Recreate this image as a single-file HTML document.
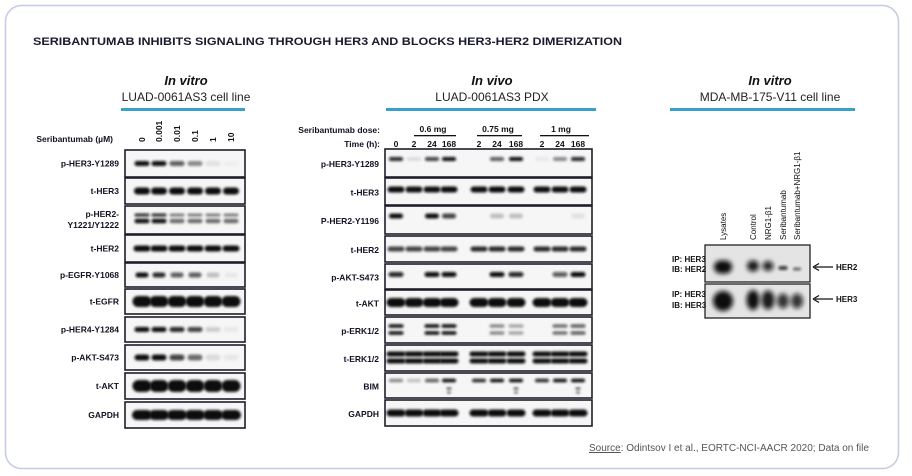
<!DOCTYPE html>
<html><head><meta charset="utf-8">
<style>
html,body{margin:0;padding:0;background:#fff;}
svg{display:block;font-family:"Liberation Sans",sans-serif;}
.lab{font-size:8.5px;font-weight:bold;fill:#111122;text-anchor:end;}
.hd1{font-size:13px;font-weight:bold;font-style:italic;fill:#111;text-anchor:middle;}
.hd2{font-size:12px;fill:#222;text-anchor:middle;}
.ln{font-size:8.5px;font-weight:bold;fill:#111;}
.sm{font-size:8px;fill:#111;}
</style></head>
<body>
<svg id="s" width="912" height="476" viewBox="0 0 912 476" xmlns="http://www.w3.org/2000/svg">
<defs>
<filter id="bl" x="-50%" y="-100%" width="200%" height="300%"><feGaussianBlur stdDeviation="1.3"/></filter>
<filter id="bl2" x="-50%" y="-100%" width="200%" height="300%"><feGaussianBlur stdDeviation="2.4"/></filter>
</defs>
<rect x="5.5" y="5.5" width="893" height="463" rx="16" fill="#fff" stroke="#c5cbe0" stroke-width="1.5"/>
<text x="33" y="45" font-size="11" font-weight="bold" fill="#1a1a2e" textLength="589" lengthAdjust="spacingAndGlyphs">SERIBANTUMAB INHIBITS SIGNALING THROUGH HER3 AND BLOCKS HER3-HER2 DIMERIZATION</text>

<text class="hd1" x="186" y="85">In vitro</text>
<text class="hd2" x="186" y="101">LUAD-0061AS3 cell line</text>
<rect x="121" y="108" width="124" height="3" fill="#3a9fc9"/>

<text class="hd1" x="492" y="85">In vivo</text>
<text class="hd2" x="492" y="101">LUAD-0061AS3 PDX</text>
<rect x="386" y="108" width="210" height="3" fill="#3a9fc9"/>

<text class="hd1" x="770" y="85">In vitro</text>
<text class="hd2" x="770" y="101">MDA-MB-175-V11 cell line</text>
<rect x="670" y="108" width="185" height="3" fill="#3a9fc9"/>

<text class="lab" x="113" y="142" style="text-anchor:end">Seribantumab (µM)</text>
<text class="lab" x="380" y="133">Seribantumab dose:</text>
<text class="lab" x="380" y="147">Time (h):</text>

<text x="589" y="451" font-size="10" fill="#555"><tspan text-decoration="underline">Source</tspan>: Odintsov I et al., EORTC-NCI-AACR 2020; Data on file</text>
<g id="g"></g>
</svg>
<script>
var NS="http://www.w3.org/2000/svg",g=document.getElementById('g');
function el(t,a,txt){var e=document.createElementNS(NS,t);for(var k in a)e.setAttribute(k,a[k]);if(txt!==undefined)e.textContent=txt;g.appendChild(e);return e;}
function box(x0,x1,y0,y1){el('rect',{x:x0,y:y0,width:x1-x0,height:y1-y0,fill:'#f6f6f6',stroke:'#1e1e2a','stroke-width':1.6});}
function band(cx,cy,w,h,o,f){if(o<=0)return;el('rect',{x:cx-w/2,y:cy-h/2,width:w,height:h,rx:h/2,fill:'#0a0a0a','fill-opacity':Math.min(1,o*1.1),filter:'url(#'+(f||'bl')+')'});}
var LL=[142,159,177,195,213,231];
['0','0.001','0.01','0.1','1','10'].forEach(function(l,i){
 el('text',{class:'ln',x:LL[i]+3,y:142,transform:'rotate(-90 '+(LL[i]+3)+' 142)'},l);});
var rowsL=[
['p-HER3-Y1289',150,177,[.9,.9,.6,.4,.08,.03],5,15],
['t-HER3',178,204,[1,1,1,1,1,1],7,16],
['',206,234,[.9,.9,.5,.5,.5,.5],3.5,15,'d'],
['t-HER2',235,262,[1,1,1,1,1,1],6,17],
['p-EGFR-Y1068',263,287,[.9,.8,.6,.6,.2,.05],5,13],
['t-EGFR',289,314,[1,1,1,1,1,1],11,19],
['p-HER4-Y1284',317,342,[.9,.9,.8,.7,.15,.05],5,15],
['p-AKT-S473',345,370,[.9,.9,.7,.5,.1,.05],6,15],
['t-AKT',373,399,[1,1,1,1,1,1],12,19],
['GAPDH',402,428,[1,1,1,1,1,1],10,20]];
rowsL.forEach(function(r){box(125,245,r[1],r[2]);var cy=(r[1]+r[2])/2;
 r[3].forEach(function(o,i){if(r[6]=='d'){band(LL[i],cy-5,r[5],3,o*0.9);band(LL[i],cy+1,r[5],4.5,o);}else band(LL[i],cy,r[5],r[4],o);});
 if(r[0])el('text',{class:'lab',x:119,y:cy+3},r[0]);});
el('text',{class:'lab',x:119,y:217},'p-HER2-');el('text',{class:'lab',x:119,y:228},'Y1221/Y1222');
var LM=[396,414,432,449,479,497,516,542,560,578];
var tl=['0','2','24','168','2','24','168','2','24','168'];
tl.forEach(function(t,i){el('text',{class:'ln',x:LM[i],y:147,'text-anchor':'middle'},t);});
[['0.6 mg',433,414,456],['0.75 mg',498,477,522],['1 mg',561,540,589]].forEach(function(d){
 el('text',{class:'ln',x:d[1],y:132,'text-anchor':'middle'},d[0]);el('rect',{x:d[2],y:135,width:d[3]-d[2],height:1.3,fill:'#111'});});
var rowsM=[
['p-HER3-Y1289',149,177,[.8,.1,.7,.9,0,.6,.9,.05,.4,.8],4,14,-4],
['t-HER3',178,205,[1,.9,.9,1,.9,1,1,.9,.9,1],6,17,-2],
['P-HER2-Y1196',206,234,[.9,0,.9,.7,0,.2,.2,0,0,.08],5,14,-4],
['t-HER2',236,262,[.7,.7,.7,.7,.8,.8,.8,.8,.8,.8],5,17,0],
['p-AKT-S473',264,289,[.8,0,.9,.9,0,.9,.8,0,.6,1],5,15,-2],
['t-AKT',290,315,[1,1,1,1,1,1,1,1,1,1],9,19,0],
['p-ERK1/2',317,343,[.9,0,1,1,0,.4,.3,0,.5,.6],3.5,15,0,'d'],
['t-ERK1/2',345,371,[1,1,1,1,.9,1,1,.9,1,1],5,19,0,'d'],
['BIM',373,398,[.4,.2,.6,1,.8,1,1,.8,.9,1],3.5,14,-5],
['GAPDH',400,426,[1,1,1,1,1,1,1,1,1,1],7,19,0]];
rowsM.forEach(function(r){box(385,592,r[1],r[2]);var cy=(r[1]+r[2])/2;
 r[3].forEach(function(o,i){if(r[7]=='d'){band(LM[i],cy-4,r[5],r[4],o);band(LM[i],cy+3,r[5],r[4],o);}else band(LM[i],cy+r[6],r[5],r[4],o);});
 if(r[0]=='BIM'){[3,6,9].forEach(function(i){band(LM[i],cy+3,5,2,.7);band(LM[i],cy+7,4,2,.6);});}
 el('text',{class:'lab',x:379,y:cy+4},r[0]);});
var LR=[723,753,768,783,797];
['Lysates','Control','NRG1-β1','Seribantumab','Seribantumab+NRG1-β1'].forEach(function(t,i){
 el('text',{class:'sm',x:LR[i]+3,y:240,transform:'rotate(-90 '+(LR[i]+3)+' 240)'},t);});
el('rect',{x:705,y:245,width:105,height:37,fill:'#e4e4e4',stroke:'#222','stroke-width':1.3});
el('rect',{x:705,y:284,width:105,height:34,fill:'#e4e4e4',stroke:'#222','stroke-width':1.3});
band(723,267,18,13,1,'bl2');band(753,266,12,11,.85,'bl2');band(768,266,11,10,.8,'bl2');band(783,268,9,4,.7);band(797,269,8,3,.5);
band(723,301,20,20,1,'bl2');band(753,300,13,20,.9,'bl2');band(768,300,13,19,.85,'bl2');band(783,301,12,15,.75,'bl2');band(797,301,12,15,.75,'bl2');
[['IP: HER3',262],['IB: HER2',272],['IP: HER3',297],['IB: HER3',308]].forEach(function(t){el('text',{class:'sm',x:672,y:t[1],'font-weight':'bold'},t[0]);});
[[267,'HER2'],[299,'HER3']].forEach(function(a){
 el('line',{x1:815,y1:a[0],x2:833,y2:a[0],stroke:'#111','stroke-width':1.3});
 el('path',{d:'M813 '+a[0]+' l6 -3.5 M813 '+a[0]+' l6 3.5',stroke:'#111','stroke-width':1.3,fill:'none'});
 el('text',{class:'sm',x:836,y:a[0]+3,'font-weight':'bold'},a[1]);});
</script>
</body></html>
